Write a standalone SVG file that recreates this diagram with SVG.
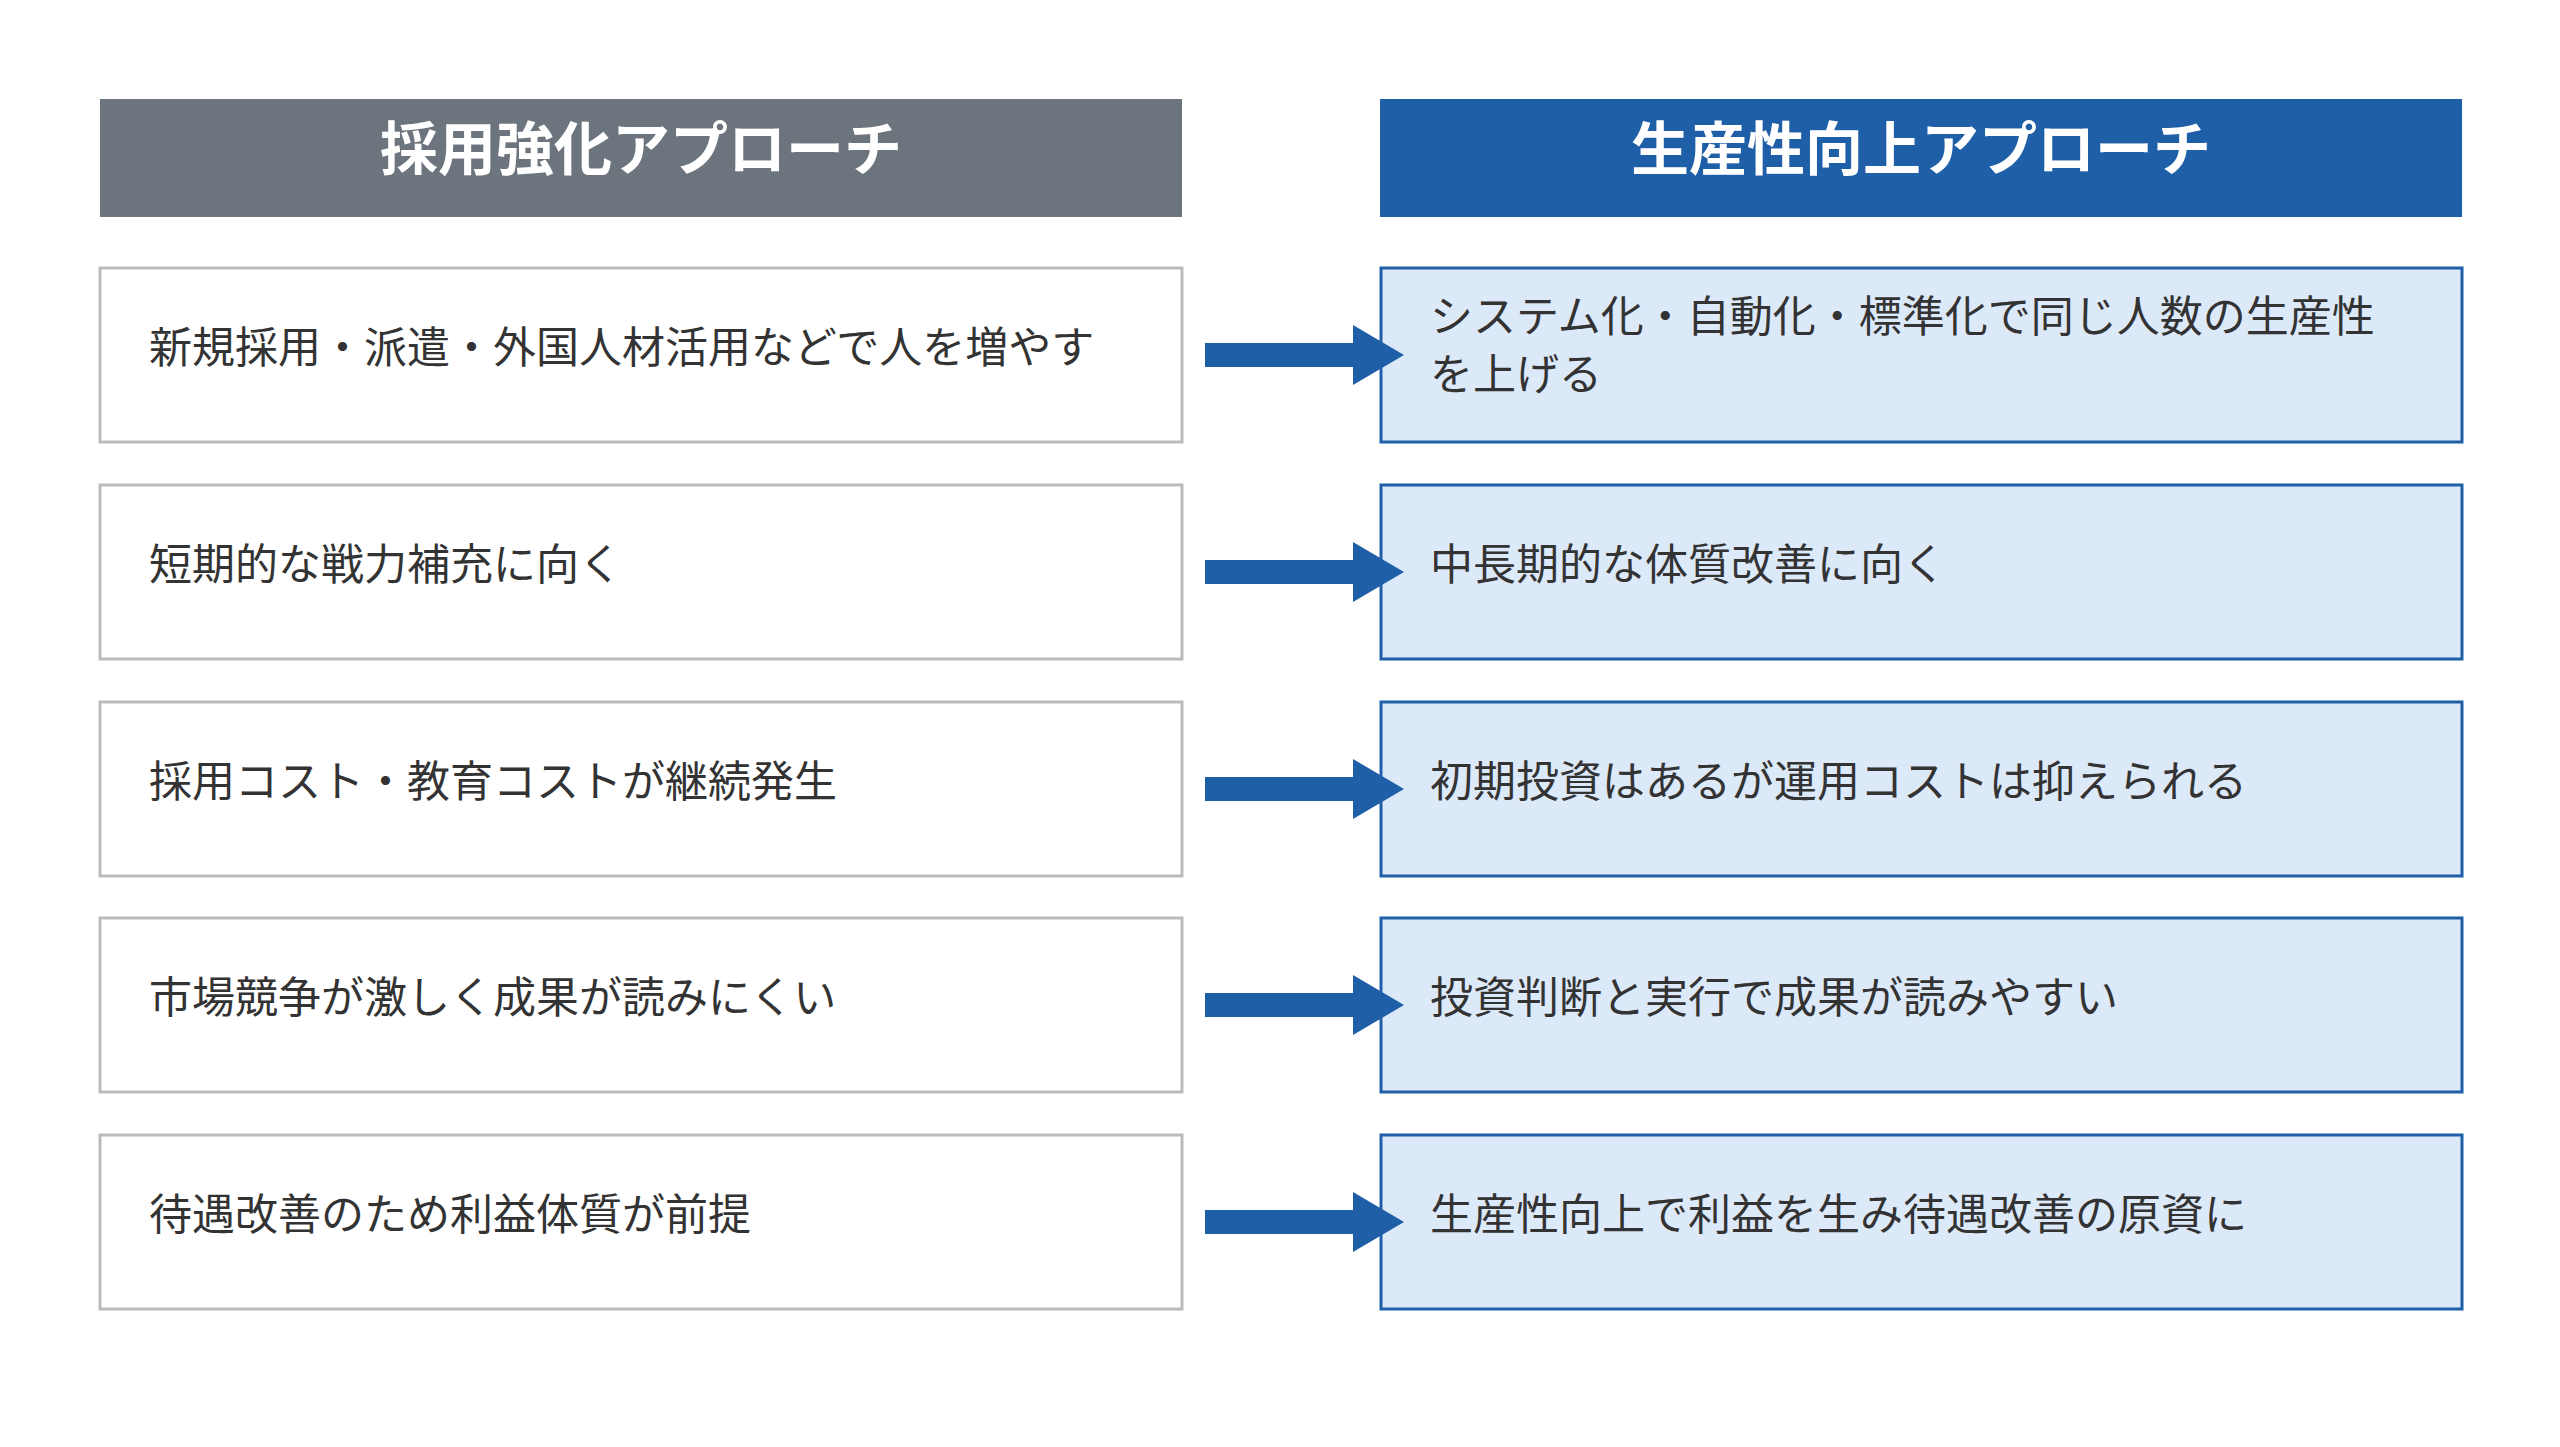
<svg xmlns="http://www.w3.org/2000/svg" width="2560" height="1447" viewBox="0 0 2560 1447">
<style>
.t{font-family:"Noto Sans CJK JP","Noto Sans",sans-serif;font-size:43px;fill:#333}
.h{font-family:"Noto Sans CJK JP","Noto Sans",sans-serif;font-size:58px;font-weight:bold;fill:#fff;text-anchor:middle}
.l{fill:#fff;stroke:#bbb;stroke-width:3}
.r{fill:#dce9f9;stroke:#1f5fa8;stroke-width:3}
</style>
<defs>
<path id="ar" d="M1205,-12 H1353 V-30 L1404,0 L1353,30 V12 H1205 Z" fill="#1f5fa8"/>
</defs>
<rect width="2560" height="1447" fill="#fff"/>
<g id="hL"><rect x="100" y="99" width="1082" height="118" fill="#6c757d"/><text class="h" x="641" y="170">採用強化アプローチ</text></g>
<g id="hR"><rect x="1380" y="99" width="1082" height="118" fill="#1f5fa8"/><text class="h" x="1921" y="170">生産性向上アプローチ</text></g>
<g id="L1"><rect class="l" x="100" y="268" width="1082" height="174"/><text class="t" x="149" y="363">新規採用・派遣・外国人材活用などで人を増やす</text></g>
<g id="L2"><rect class="l" x="100" y="485" width="1082" height="174"/><text class="t" x="149" y="580">短期的な戦力補充に向く</text></g>
<g id="L3"><rect class="l" x="100" y="702" width="1082" height="174"/><text class="t" x="149" y="797">採用コスト・教育コストが継続発生</text></g>
<g id="L4"><rect class="l" x="100" y="918" width="1082" height="174"/><text class="t" x="149" y="1013">市場競争が激しく成果が読みにくい</text></g>
<g id="L5"><rect class="l" x="100" y="1135" width="1082" height="174"/><text class="t" x="149" y="1230">待遇改善のため利益体質が前提</text></g>
<g id="R1"><rect class="r" x="1381" y="268" width="1081" height="174"/><text class="t" x="1430" y="332">システム化・自動化・標準化で同じ人数の生産性</text><text class="t" x="1430" y="390">を上げる</text></g>
<g id="R2"><rect class="r" x="1381" y="485" width="1081" height="174"/><text class="t" x="1430" y="580">中長期的な体質改善に向く</text></g>
<g id="R3"><rect class="r" x="1381" y="702" width="1081" height="174"/><text class="t" x="1430" y="797">初期投資はあるが運用コストは抑えられる</text></g>
<g id="R4"><rect class="r" x="1381" y="918" width="1081" height="174"/><text class="t" x="1430" y="1013">投資判断と実行で成果が読みやすい</text></g>
<g id="R5"><rect class="r" x="1381" y="1135" width="1081" height="174"/><text class="t" x="1430" y="1230">生産性向上で利益を生み待遇改善の原資に</text></g>
<g id="connectors">
<use href="#ar" y="355"/><use href="#ar" y="572"/><use href="#ar" y="789"/><use href="#ar" y="1005"/><use href="#ar" y="1222"/>
</g>
</svg>
